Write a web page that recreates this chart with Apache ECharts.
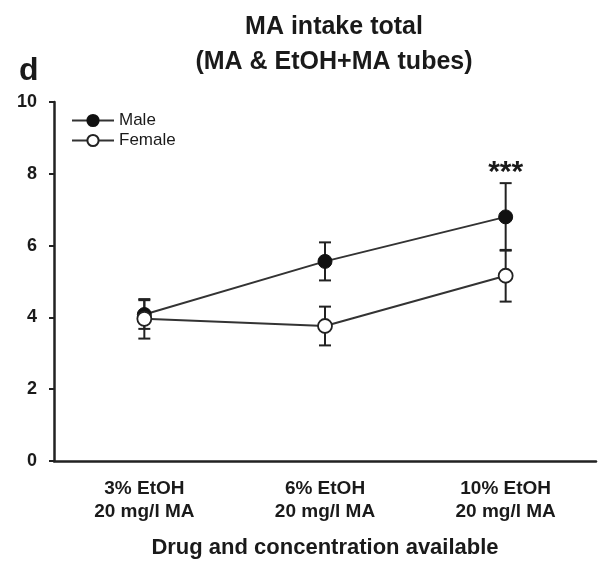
<!DOCTYPE html>
<html>
<head>
<meta charset="utf-8">
<script src="https://cdn.jsdelivr.net/npm/echarts@6/dist/echarts.min.js"></script>
<style>
  body { margin: 0; background: #fff; }
  #chart { width: 600px; height: 564px; }
</style>
</head>
<body>
<div id="chart"></div>
<script>
// data
var categories = ['3% EtOH\n20 mg/l MA', '6% EtOH\n20 mg/l MA', '10% EtOH\n20 mg/l MA'];
var maleMean = [4.08, 5.56, 6.80];
var maleSE = [0.40, 0.53, 0.94];
var femaleMean = [3.96, 3.76, 5.16];
var femaleSE = [0.55, 0.54, 0.72];
var sigLabels = ['', '', '***'];

var font = 'Liberation Sans, Arial, sans-serif';
var ink = '#1a1a1a';

function errData(mean, se) {
  return mean.map(function (m, i) { return [i, m, se[i]]; });
}

function errorBars(withSig) {
  return function (params, api) {
    var i = api.value(0), m = api.value(1), s = api.value(2);
    var top = api.coord([i, m + s]);
    var bot = api.coord([i, m - s]);
    var half = 6;
    var st = { stroke: '#222', lineWidth: 2 };
    var kids = [
      { type: 'line', shape: { x1: top[0], y1: top[1], x2: bot[0], y2: bot[1] }, style: st },
      { type: 'line', shape: { x1: top[0] - half, y1: top[1], x2: top[0] + half, y2: top[1] }, style: st },
      { type: 'line', shape: { x1: bot[0] - half, y1: bot[1], x2: bot[0] + half, y2: bot[1] }, style: st }
    ];
    if (withSig && sigLabels[i]) {
      kids.push({
        type: 'text',
        style: {
          x: top[0], y: top[1] - 10, text: sigLabels[i],
          font: 'bold 30px ' + font, fill: ink,
          textAlign: 'center', textVerticalAlign: 'middle'
        }
      });
    }
    return { type: 'group', children: kids };
  };
}

var chart = echarts.init(document.getElementById('chart'));
chart.setOption({
  backgroundColor: '#fff',
  animation: false,
  title: [{
    text: 'MA intake total\n(MA & EtOH+MA tubes)',
    left: 329,
    top: 5,
    textAlign: 'center',
    textStyle: { fontFamily: font, fontSize: 25, fontWeight: 'bold', color: ink, lineHeight: 35 }
  }, {
    text: 'd',
    left: 14,
    top: 50,
    textStyle: { fontFamily: font, fontSize: 32, fontWeight: 'bold', color: ink }
  }],
  legend: {
    orient: 'vertical',
    left: 66,
    top: 107,
    itemWidth: 42,
    itemHeight: 14,
    itemGap: 3,
    textStyle: { fontFamily: font, fontSize: 17, color: ink },
    data: ['Male', 'Female']
  },
  grid: { left: 54, right: 4, top: 102, bottom: 100 },
  xAxis: {
    type: 'category',
    data: categories,
    boundaryGap: true,
    axisLine: { lineStyle: { color: '#222', width: 2.5 } },
    axisTick: { alignWithLabel: true, length: 6, lineStyle: { color: '#222', width: 2 } },
    axisLabel: { fontFamily: font, fontSize: 19, fontWeight: 'bold', color: ink, lineHeight: 23, margin: 16 },
    name: 'Drug and concentration available',
    nameLocation: 'middle',
    nameGap: 76,
    nameTextStyle: { fontFamily: font, fontSize: 22, fontWeight: 'bold', color: ink }
  },
  yAxis: {
    type: 'value',
    min: 0,
    max: 10,
    interval: 2,
    splitLine: { show: false },
    axisLine: { show: true, lineStyle: { color: '#222', width: 2.5 } },
    axisTick: { show: true, length: 5, lineStyle: { color: '#222', width: 2 } },
    axisLabel: { fontFamily: font, fontSize: 18, fontWeight: 'bold', color: ink, margin: 17 }
  },
  series: [
    {
      type: 'custom',
      name: 'maleErr',
      renderItem: errorBars(true),
      data: errData(maleMean, maleSE),
      z: 1,
      silent: true
    },
    {
      type: 'custom',
      name: 'femaleErr',
      renderItem: errorBars(false),
      data: errData(femaleMean, femaleSE),
      z: 1,
      silent: true
    },
    {
      type: 'line',
      name: 'Male',
      data: maleMean,
      symbol: 'circle',
      symbolSize: 14,
      z: 3,
      lineStyle: { color: '#333', width: 2 },
      itemStyle: { color: '#111', borderColor: '#111', borderWidth: 1 }
    },
    {
      type: 'line',
      name: 'Female',
      data: femaleMean,
      symbol: 'circle',
      symbolSize: 14,
      z: 4,
      lineStyle: { color: '#333', width: 2 },
      itemStyle: { color: '#fff', borderColor: '#222', borderWidth: 1.8 }
    }
  ]
});
</script>
</body>
</html>
